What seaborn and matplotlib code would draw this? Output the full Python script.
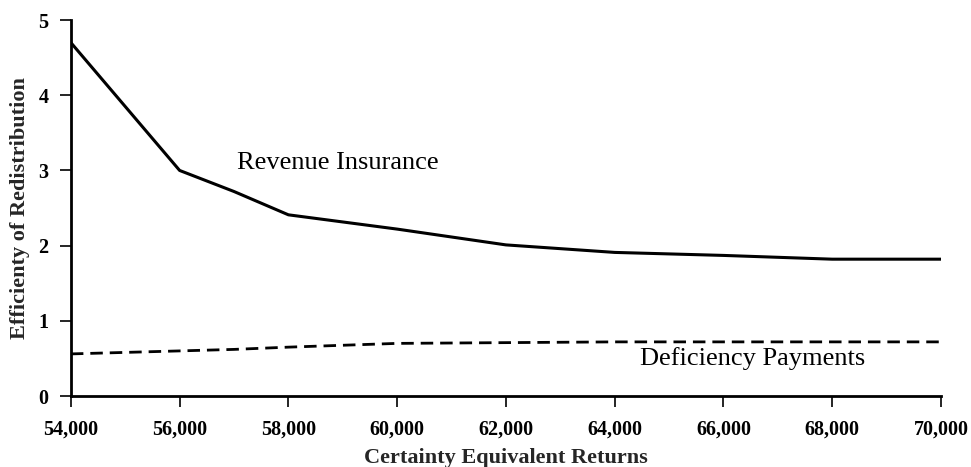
import matplotlib
matplotlib.use("Agg")
import matplotlib.pyplot as plt
import seaborn as sns
import pandas as pd
from matplotlib.ticker import FuncFormatter

returns = [54000, 56000, 57000, 58000, 60000, 62000, 64000, 66000, 68000, 70000]
revenue_insurance = [4.7, 3.0, 2.72, 2.41, 2.22, 2.01, 1.91, 1.87, 1.82, 1.82]
deficiency_payments = [0.56, 0.60, 0.62, 0.65, 0.70, 0.71, 0.72, 0.72, 0.72, 0.72]

sns.set_theme(style="ticks")
plt.rcParams['font.family'] = ['Liberation Serif', 'DejaVu Serif']

df = pd.DataFrame({"returns": returns, "ri": revenue_insurance, "dp": deficiency_payments})

fig = plt.figure(figsize=(9.71, 4.67), dpi=100)
ax = fig.add_axes([0.073, 0.152, 0.896, 0.805])

sns.lineplot(data=df, x="returns", y="ri", ax=ax, color="black", linewidth=2.2)
sns.lineplot(data=df, x="returns", y="dp", ax=ax, color="black", linewidth=2.0,
             linestyle=(0, (4.5, 2.5)))

ax.set_xlim(54000, 70000)
ax.set_ylim(0, 5)
ax.set_xticks(range(54000, 70001, 2000))
ax.set_yticks(range(0, 6))
ax.xaxis.set_major_formatter(FuncFormatter(lambda v, p: f"{int(v):,}"))
ax.tick_params(axis="both", labelsize=14.5, colors="black", width=1.2, length=8,
               direction="out")
ax.tick_params(axis="x", pad=9)
ax.tick_params(axis="y", pad=8)
for lab in ax.get_xticklabels() + ax.get_yticklabels():
    lab.set_fontweight("bold")
ax.set_xlabel("Certainty Equivalent Returns", fontsize=16, fontweight="bold", labelpad=6)
ax.set_ylabel("Efficienty of Redistribution", fontsize=16, fontweight="bold", labelpad=6)
sns.despine(ax=ax)
for s in ["left", "bottom"]:
    ax.spines[s].set_linewidth(2.0)
    ax.spines[s].set_color("black")

ax.text(57050, 3.10, "Revenue Insurance", fontsize=19, color="black", ha="left", va="center")
ax.text(64460, 0.50, "Deficiency Payments", fontsize=19, color="black", ha="left", va="center")

fig.savefig("out.png", dpi=100)
